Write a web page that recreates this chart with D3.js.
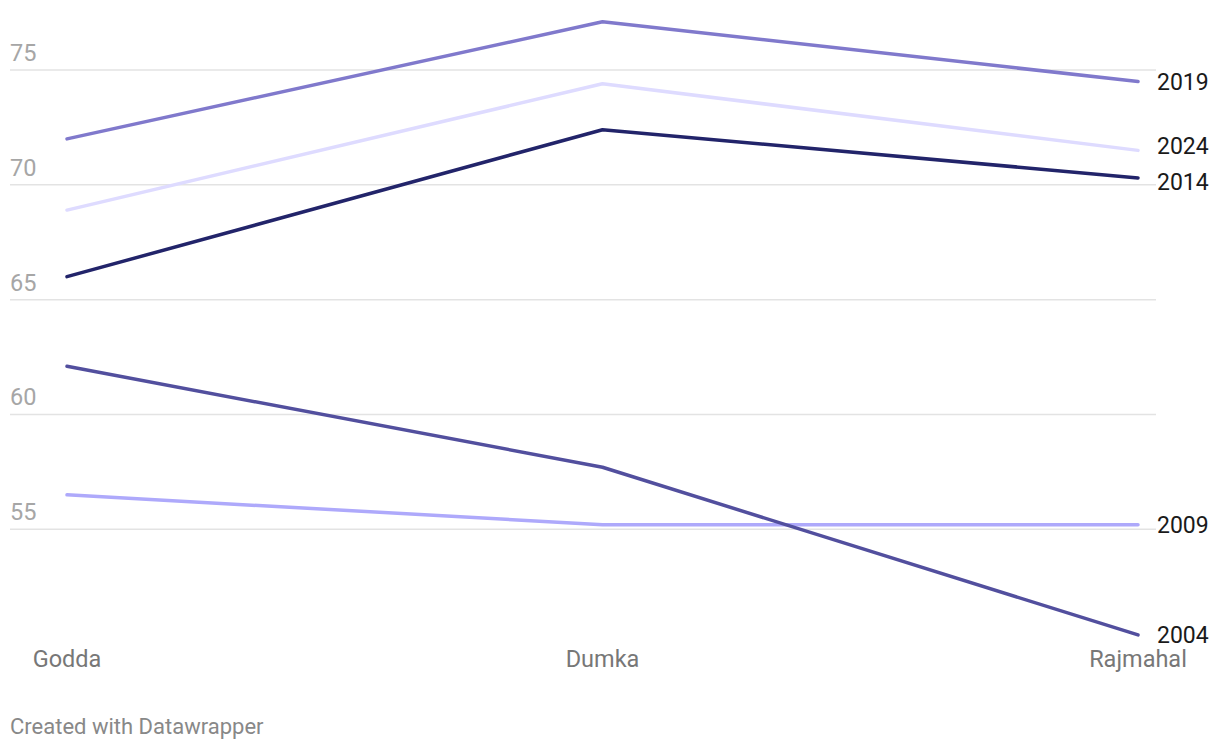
<!DOCTYPE html>
<html lang="en">
<head>
<meta charset="UTF-8">
<title>Turnout by constituency</title>
<script src="https://d3js.org/d3.v7.min.js"></script>
<style>
  body { margin: 0; background: #fff; }
  svg { font-family: Roboto, "Noto Sans", sans-serif; }
</style>
</head>
<body>
<div id="chart"></div>
<script>
    // constituencies along the x axis
    var places = ["Godda", "Dumka", "Rajmahal"];
    var yTicks = [55, 60, 65, 70, 75];

    // turnout (%) per election year, order of places above
    var years = ["2019", "2024", "2014", "2004", "2009"];
    var v2019 = [72.0, 77.1, 74.5];
    var v2024 = [68.9, 74.4, 71.5];
    var v2014 = [66.0, 72.4, 70.3];
    var v2004 = [62.1, 57.7, 50.4];
    var v2009 = [56.5, 55.2, 55.2];
    var colors = ["#8079cc", "#dedbff", "#22246a", "#524f9e", "#aea9fb"];

    var series = [v2019, v2024, v2014, v2004, v2009].map((v, i) => ({
        year: years[i], values: v, color: colors[i]
    }));

    var width = 1220, height = 750;

    const svg = d3.select("#chart").append("svg")
        .attr("width", width)
        .attr("height", height);

    const x = d3.scalePoint().domain(places).range([67, 1138]);
    const y = d3.scaleLinear().domain([55, 75]).range([529.3, 70]);

    // grid + tick labels
    const grid = svg.append("g");
    grid.selectAll("line").data(yTicks).join("line")
        .attr("x1", 10).attr("x2", 1156)
        .attr("y1", d => y(d)).attr("y2", d => y(d))
        .attr("stroke", "#e3e3e3")
        .attr("stroke-width", 1.5);
    grid.selectAll("text").data(yTicks).join("text")
        .attr("x", 10)
        .attr("y", d => y(d) - 9)
        .attr("fill", "#a6a6a6")
        .style("font-size", "23.5px")
        .text(d => d);

    // x labels
    svg.append("g").selectAll("text").data(places).join("text")
        .attr("x", d => x(d))
        .attr("y", 667)
        .attr("text-anchor", "middle")
        .attr("fill", "#777")
        .style("font-size", "23.5px")
        .text(d => d);

    const line = d3.line()
        .x((d, i) => x(places[i]))
        .y(d => y(d));

    const lines = svg.append("g").attr("fill", "none");
    // draw lighter ones first, dark ones on top
    const drawOrder = [series[1], series[4], series[0], series[3], series[2]];
    lines.selectAll("path").data(drawOrder).join("path")
        .attr("d", d => line(d.values))
        .attr("stroke", d => d.color)
        .attr("stroke-width", 3.5)
        .attr("stroke-linejoin", "round")
        .attr("stroke-linecap", "round");

    // end labels, nudged apart so they don't overlap
    var labels = series.map(s => ({year: s.year, ly: y(s.values[2])}))
        .sort((a, b) => a.ly - b.ly);
    var minGap = 36;
    for (let iter = 0; iter < 20; iter++) {
        for (let i = 1; i < labels.length; i++) {
            const a = labels[i - 1], b = labels[i];
            const overlap = minGap - (b.ly - a.ly);
            if (overlap > 0) {
                a.ly -= overlap / 2;
                b.ly += overlap / 2;
            }
        }
    }
    svg.append("g").selectAll("text").data(labels).join("text")
        .attr("x", 1157)
        .attr("y", d => d.ly)
        .attr("dy", "0.36em")
        .attr("fill", "#1a1a1a")
        .style("font-size", "23px")
        .text(d => d.year);

    svg.append("text")
        .attr("x", 10)
        .attr("y", 734)
        .attr("fill", "#888")
        .style("font-size", "22px")
        .text("Created with Datawrapper");
</script>
</body>
</html>
